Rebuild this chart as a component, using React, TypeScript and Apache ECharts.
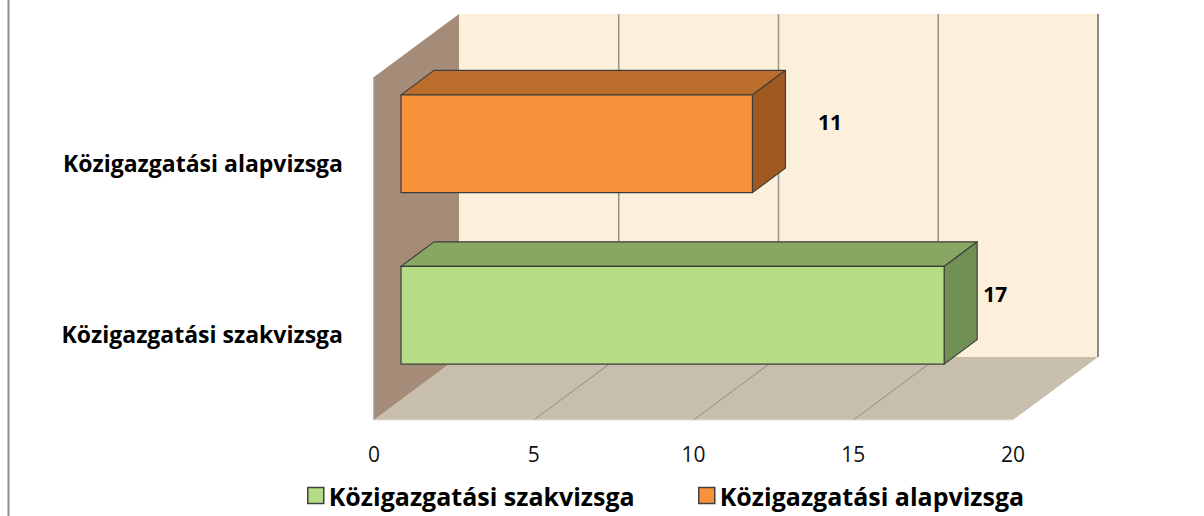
import React, { useEffect, useRef } from "react";
import * as echarts from "echarts";

// ---- data ----
const categories = ["Közigazgatási szakvizsga", "Közigazgatási alapvizsga"];
const seriesNames = ["Közigazgatási szakvizsga", "Közigazgatási alapvizsga"];
const szakvizsgaValues: (number | null)[] = [17, null];
const alapvizsgaValues: (number | null)[] = [null, 11];
const xMin = 0;
const xMax = 20;
const xInterval = 5;

// ---- styling constants ----
const FONT = "'Open Sans', 'Noto Sans', sans-serif";
const WALL_DX = 85;
const WALL_DY = -63;
const BAR_OFF_DX = 27;
const BAR_OFF_DY = -19;
const BAR_DEPTH_DX = 33;
const BAR_DEPTH_DY = -24.5;
const BAR_RATIO = 0.57;
const LABEL_DY = -40.5;

const seriesStyles = [
  { front: "#B5DD86", top: "#88A763", side: "#728F53", labelDx: 78, legendLeft: 302 },
  { front: "#F7913A", top: "#BD6D2B", side: "#A05A21", labelDx: 104.5, legendLeft: 693 },
];

function toData(values: (number | null)[]) {
  return values
    .map((v, i) => [v, i] as [number | null, number])
    .filter((d) => d[0] !== null);
}

function renderWalls(params: any, api: any) {
  const cs = params.coordSys;
  const x0 = cs.x;
  const x1 = cs.x + cs.width;
  const yT = cs.y;
  const yB = cs.y + cs.height;
  const children: any[] = [];
  children.push({
    type: "rect",
    shape: { x: x0 + WALL_DX, y: yT + WALL_DY, width: cs.width, height: cs.height },
    style: { fill: "#FCF0DA" },
  });
  children.push({
    type: "polygon",
    shape: { points: [[x0, yT], [x0 + WALL_DX, yT + WALL_DY], [x0 + WALL_DX, yB + WALL_DY], [x0, yB]] },
    style: { fill: "#A58C78" },
  });
  children.push({
    type: "polygon",
    shape: { points: [[x0, yB], [x1, yB], [x1 + WALL_DX, yB + WALL_DY], [x0 + WALL_DX, yB + WALL_DY]] },
    style: { fill: "#C8BEAE" },
  });
  for (let t = xMin + xInterval; t <= xMax; t += xInterval) {
    const px = api.coord([t, 0])[0];
    children.push({
      type: "line",
      shape: { x1: px + WALL_DX, y1: yT + WALL_DY, x2: px + WALL_DX, y2: yB + WALL_DY },
      style: { stroke: t === xMax ? "#8C8C8C" : "#929292", lineWidth: t === xMax ? 2 : 1.5 },
    });
    if (t < xMax) {
      children.push({
        type: "line",
        shape: { x1: px, y1: yB, x2: px + WALL_DX, y2: yB + WALL_DY },
        style: { stroke: "#8E8E8E", lineWidth: 1 },
      });
    }
  }
  children.push({
    type: "line",
    shape: { x1: x0, y1: yT, x2: x0, y2: yB },
    style: { stroke: "#9C9C9C", lineWidth: 1.5 },
  });
  children.push({
    type: "line",
    shape: { x1: x0, y1: yB, x2: x1, y2: yB },
    style: { stroke: "#E4E0D8", lineWidth: 1 },
  });
  return { type: "group", children };
}

function makeBarRender(idx: number) {
  const st = seriesStyles[idx];
  return (params: any, api: any) => {
    const v = api.value(0);
    const c = api.value(1);
    if (v == null || isNaN(v)) return null;
    const pStart = api.coord([0, c]);
    const pEnd = api.coord([v, c]);
    const band = api.size([0, 1])[1];
    const h = band * BAR_RATIO;
    const fx0 = pStart[0] + BAR_OFF_DX;
    const fx1 = pEnd[0] + BAR_OFF_DX;
    const fy0 = pStart[1] + BAR_OFF_DY - h / 2;
    const fy1 = fy0 + h;
    const dx = BAR_DEPTH_DX;
    const dy = BAR_DEPTH_DY;
    const edge = { stroke: "#3C3C3C", lineWidth: 1.2, lineJoin: "round" };
    return {
      type: "group",
      children: [
        {
          type: "polygon",
          shape: { points: [[fx0, fy0], [fx1, fy0], [fx1 + dx, fy0 + dy], [fx0 + dx, fy0 + dy]] },
          style: { fill: st.top, ...edge },
        },
        {
          type: "polygon",
          shape: { points: [[fx1, fy0], [fx1 + dx, fy0 + dy], [fx1 + dx, fy1 + dy], [fx1, fy1]] },
          style: { fill: st.side, ...edge },
        },
        {
          type: "rect",
          shape: { x: fx0, y: fy0, width: fx1 - fx0, height: h },
          style: { fill: st.front, ...edge },
        },
        {
          type: "text",
          x: pEnd[0] + st.labelDx,
          y: pStart[1] + LABEL_DY,
          style: {
            text: String(v),
            fontFamily: FONT,
            fontWeight: "bold",
            fontSize: 21,
            fill: "#000",
            align: "center",
            verticalAlign: "middle",
          },
        },
      ],
    };
  };
}

export default function App() {
  const ref = useRef<HTMLDivElement>(null);
  useEffect(() => {
    if (!ref.current) return;
    const chart = echarts.init(ref.current, undefined, { renderer: "svg" });
    chart.setOption({
      animation: false,
      backgroundColor: "#FFFFFF",
      grid: { left: 374, right: 191, top: 77, bottom: 96, containLabel: false },
      xAxis: {
        type: "value",
        min: xMin,
        max: xMax,
        interval: xInterval,
        axisLine: { show: false },
        axisTick: { show: false },
        splitLine: { show: false },
        axisLabel: { color: "#111", fontFamily: FONT, fontSize: 21, margin: 23 },
      },
      yAxis: {
        type: "category",
        data: categories,
        axisLine: { show: false },
        axisTick: { show: false },
        axisLabel: {
          color: "#000",
          fontFamily: FONT,
          fontWeight: "bold",
          fontSize: 23,
          margin: 31,
          padding: [5, 0, 0, 0],
        },
      },
      legend: seriesNames.map((n, i) => ({
        left: seriesStyles[i].legendLeft,
        top: 478,
        itemWidth: 16,
        itemHeight: 16,
        icon: "rect",
        textStyle: { color: "#000", fontFamily: FONT, fontWeight: "bold", fontSize: 25 },
        data: [
          {
            name: n,
            itemStyle: { color: seriesStyles[i].front, borderColor: "#404040", borderWidth: 1.5 },
          },
        ],
      })),
      graphic: [
        {
          type: "line",
          shape: { x1: 8.5, y1: 0, x2: 8.5, y2: 516 },
          style: { stroke: "#8E8E8E", lineWidth: 2 },
          silent: true,
        },
      ],
      series: [
        {
          type: "custom",
          name: "walls",
          renderItem: renderWalls,
          data: [[0, 0]],
          z: 0,
          silent: true,
          clip: false,
        },
        {
          type: "custom",
          name: seriesNames[0],
          renderItem: makeBarRender(0),
          data: toData(szakvizsgaValues),
          itemStyle: { color: seriesStyles[0].front },
          encode: { x: 0, y: 1 },
          z: 2,
          clip: false,
        },
        {
          type: "custom",
          name: seriesNames[1],
          renderItem: makeBarRender(1),
          data: toData(alapvizsgaValues),
          itemStyle: { color: seriesStyles[1].front },
          encode: { x: 0, y: 1 },
          z: 2,
          clip: false,
        },
      ],
    });
    return () => chart.dispose();
  }, []);
  return (
    <div
      ref={ref}
      style={{ position: "absolute", left: 0, top: 0, width: 1204, height: 516, background: "#fff" }}
    />
  );
}
